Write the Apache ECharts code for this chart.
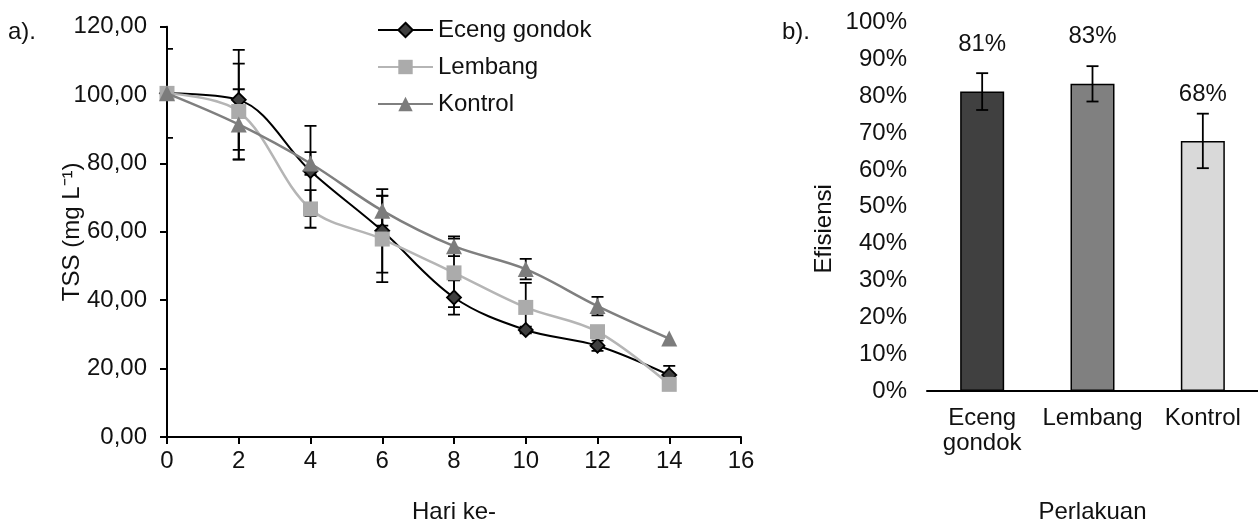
<!DOCTYPE html>
<html>
<head>
<meta charset="utf-8">
<script src="https://cdn.jsdelivr.net/npm/echarts@6/dist/echarts.min.js"></script>
<style>
html,body{margin:0;padding:0;background:#fff;}
#c{width:1258px;height:529px;}
</style>
</head>
<body>
<div id="c"></div>
<script>
// ---- data: panel a) TSS over days ----
var days = [0, 2, 4, 6, 8, 10, 12, 14];
var ecengTSS   = [100.5, 98.6, 77.8, 60.3, 40.8, 31.3, 26.7, 18.1];
var lembangTSS = [100.5, 95.2, 66.7, 57.9, 48.0, 37.9, 30.8, 15.4];
var kontrolTSS = [100.5, 91.4, 80.0, 66.2, 55.8, 49.1, 38.3, 28.8];
var ecengSD    = [13.0, 14.6, 13.2, 12.2, 5.0, 1.0, 1.5, 2.7];
var lembangSD  = [0, 14.0, 5.5, 12.6, 10.0, 7.2, 1.0, 0];
var kontrolSD  = [0, 10.3, 3.3, 4.4, 2.9, 3.0, 2.7, 0];
var yTicksA = [0, 20, 40, 60, 80, 100, 120];
var xTicksA = [0, 2, 4, 6, 8, 10, 12, 14, 16];

// ---- data: panel b) efficiency ----
var treatments = ['Eceng\ngondok', 'Lembang', 'Kontrol'];
var efficiency = [81.3, 83.4, 67.9];
var efficiencySD = [5.0, 4.8, 7.4];

var FONT = '"Liberation Sans", Arial, sans-serif';
var FS = 24;

function pairs(xs, ys) { return xs.map(function (x, i) { return [x, ys[i]]; }); }
function errData(xs, ys, sd) { return xs.map(function (x, i) { return [x, ys[i] - sd[i], ys[i] + sd[i]]; }); }

function errRender(half) {
  return function (params, api) {
    var x = api.value(0);
    var lo = api.coord([x, api.value(1)]);
    var hi = api.coord([x, api.value(2)]);
    if (Math.abs(hi[1] - lo[1]) < 0.5) return null;
    var st = { stroke: '#000', lineWidth: 1.8 };
    return {
      type: 'group',
      children: [
        { type: 'line', shape: { x1: lo[0], y1: lo[1], x2: hi[0], y2: hi[1] }, style: st },
        { type: 'line', shape: { x1: lo[0] - half, y1: lo[1], x2: lo[0] + half, y2: lo[1] }, style: st },
        { type: 'line', shape: { x1: hi[0] - half, y1: hi[1], x2: hi[0] + half, y2: hi[1] }, style: st }
      ]
    };
  };
}

var axisLine = { lineStyle: { color: '#000', width: 2 } };
var axisTick = { length: 7, lineStyle: { color: '#000', width: 2 } };
var labelStyle = { color: '#111', fontSize: FS, fontFamily: FONT };

var option = {
  animation: false,
  backgroundColor: '#fff',
  textStyle: { fontFamily: FONT },
  title: [
    { text: 'a).', left: 3, top: 15, textStyle: { fontSize: FS, fontWeight: 'normal', color: '#111', fontFamily: FONT } },
    { text: 'b).', left: 777, top: 15, textStyle: { fontSize: FS, fontWeight: 'normal', color: '#111', fontFamily: FONT } }
  ],
  legend: {
    orient: 'vertical',
    left: 372,
    top: 13,
    itemWidth: 55,
    itemHeight: 18,
    itemGap: 13,
    textStyle: { fontSize: FS, color: '#111', fontFamily: FONT },
    data: ['Eceng gondok', 'Lembang', 'Kontrol']
  },
  grid: [
    { left: 167, top: 26.7, width: 574, height: 419.3 },
    { left: 927, top: 22.7, width: 331, height: 372.8 }
  ],
  xAxis: [
    {
      gridIndex: 0, type: 'value', min: xTicksA[0], max: xTicksA[xTicksA.length - 1], interval: 2,
      name: 'Hari ke-', nameLocation: 'middle', nameGap: 63, nameMoveOverlap: false,
      nameTextStyle: labelStyle,
      axisLine: axisLine, axisTick: axisTick,
      axisLabel: Object.assign({ margin: 12 }, labelStyle),
      splitLine: { show: false }
    },
    {
      gridIndex: 1, type: 'category', data: treatments,
      name: 'Perlakuan', nameLocation: 'middle', nameGap: 109, nameMoveOverlap: false,
      nameTextStyle: labelStyle,
      axisLine: axisLine, axisTick: axisTick,
      axisLabel: Object.assign({ margin: 15, lineHeight: 25, interval: 0 }, labelStyle)
    }
  ],
  yAxis: [
    {
      gridIndex: 0, type: 'value', min: yTicksA[0], max: yTicksA[yTicksA.length - 1], interval: 20,
      name: 'TSS (mg L\u207B\u00B9)', nameLocation: 'middle', nameGap: 83, nameRotate: 90, nameMoveOverlap: false,
      nameTextStyle: labelStyle,
      axisLine: axisLine, axisTick: axisTick,
      axisLabel: Object.assign({ margin: 20, formatter: function (v) { return v.toFixed(2).replace('.', ','); } }, labelStyle),
      splitLine: { show: false }
    },
    {
      gridIndex: 1, type: 'value', min: 0, max: 100, interval: 10,
      name: 'Efisiensi', nameLocation: 'middle', nameGap: 91, nameRotate: 90, nameMoveOverlap: false,
      nameTextStyle: Object.assign({ padding: [0, 44, 0, 0] }, labelStyle),
      axisLine: axisLine, axisTick: axisTick,
      axisLabel: Object.assign({ margin: 20, formatter: '{value}%' }, labelStyle),
      splitLine: { show: false }
    }
  ],
  series: [
    { type: 'custom', xAxisIndex: 0, yAxisIndex: 0, renderItem: errRender(6), data: errData(days, ecengTSS, ecengSD), encode: { x: 0, y: [1, 2] }, clip: true, z: 1, silent: true },
    { type: 'custom', xAxisIndex: 0, yAxisIndex: 0, renderItem: errRender(6), data: errData(days, lembangTSS, lembangSD), encode: { x: 0, y: [1, 2] }, clip: true, z: 1, silent: true },
    { type: 'custom', xAxisIndex: 0, yAxisIndex: 0, renderItem: errRender(6), data: errData(days, kontrolTSS, kontrolSD), encode: { x: 0, y: [1, 2] }, clip: true, z: 1, silent: true },
    {
      name: 'Eceng gondok', type: 'line', xAxisIndex: 0, yAxisIndex: 0, smooth: 0.35,
      data: pairs(days, ecengTSS), symbol: 'diamond', symbolSize: 14, z: 3,
      lineStyle: { color: '#000', width: 2 },
      itemStyle: { color: '#3f3f3f', borderColor: '#000', borderWidth: 1.8 }
    },
    {
      name: 'Lembang', type: 'line', xAxisIndex: 0, yAxisIndex: 0, smooth: 0.35,
      data: pairs(days, lembangTSS), symbol: 'rect', symbolSize: 15, z: 4,
      lineStyle: { color: '#b5b5b5', width: 2.5 },
      itemStyle: { color: '#ababab', borderWidth: 0 }
    },
    {
      name: 'Kontrol', type: 'line', xAxisIndex: 0, yAxisIndex: 0, smooth: 0.35,
      data: pairs(days, kontrolTSS), symbol: 'triangle', symbolSize: 16, z: 5,
      lineStyle: { color: '#7f7f7f', width: 2.5 },
      itemStyle: { color: '#7c7c7c', borderWidth: 0 }
    },
    {
      type: 'bar', xAxisIndex: 1, yAxisIndex: 1, barWidth: 44, z: 2,
      data: efficiency.map(function (v, i) {
        return { value: v, itemStyle: { color: ['#404040', '#808080', '#d9d9d9'][i] } };
      }),
      itemStyle: { borderColor: '#000', borderWidth: 1.5 },
      label: {
        show: true, position: 'top', distance: 35,
        formatter: function (p) { return Math.round(p.value) + '%'; },
        color: '#111', fontSize: FS, fontFamily: FONT
      }
    },
    {
      type: 'custom', xAxisIndex: 1, yAxisIndex: 1, renderItem: errRender(6), z: 3, silent: true,
      data: efficiency.map(function (v, i) { return [i, v - efficiencySD[i], v + efficiencySD[i]]; }),
      encode: { x: 0, y: [1, 2] }
    }
  ]
};

var chart = echarts.init(document.getElementById('c'), null, { renderer: 'canvas' });
chart.setOption(option);
</script>
</body>
</html>
